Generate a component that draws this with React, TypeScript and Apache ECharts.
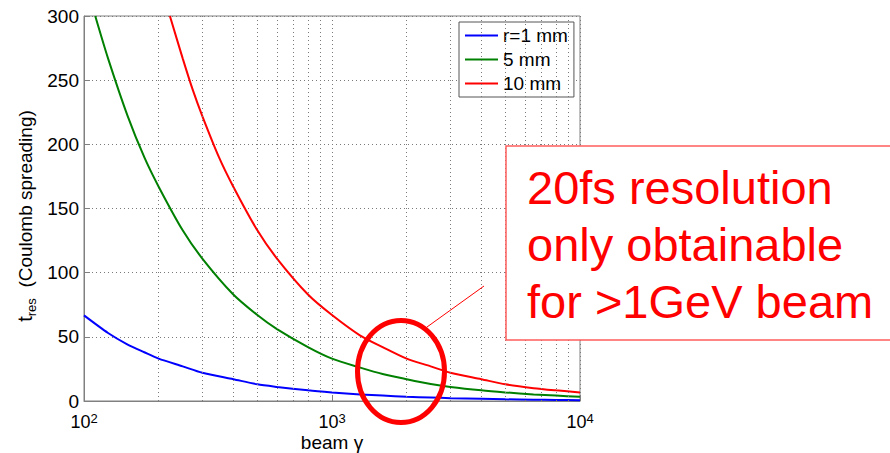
import React, { useEffect, useRef } from 'react';
import * as echarts from 'echarts';

// ---- data ----
const seriesNames = ['r=1 mm', '5 mm', '10 mm'];
const seriesColors = ['#0000ff', '#008000', '#ff0000'];

const gammaR1 = [100, 125, 150, 175, 200, 250, 300, 400, 500, 600, 800, 1000, 1300, 1600, 2000, 2500, 3000, 4000, 5000, 6500, 8000, 10000];
const tresR1 = [66.7, 53, 44, 38, 33, 27, 22, 17, 13, 11, 8.3, 6.7, 5.1, 4.2, 3.3, 2.7, 2.2, 1.7, 1.3, 1.0, 0.8, 0.67];

const gammaR5 = [111, 125, 150, 175, 200, 250, 300, 400, 500, 600, 800, 1000, 1300, 1600, 2000, 2500, 3000, 4000, 5000, 6500, 8000, 10000];
const tresR5 = [300, 267, 222, 190, 167, 133, 111, 83, 67, 56, 42, 33, 26, 21, 17, 13.3, 11, 8.3, 6.7, 5.1, 4.2, 3.3];

const gammaR10 = [222, 250, 275, 300, 350, 400, 500, 600, 800, 1000, 1300, 1600, 2000, 2500, 3000, 4000, 5000, 6500, 8000, 10000];
const tresR10 = [300, 267, 242, 222, 190, 167, 133, 111, 83, 67, 51, 42, 33, 27, 22, 17, 13, 10, 8.3, 6.7];

const xMin = 100;
const xMax = 10000;
const yMin = 0;
const yMax = 300;
const yInterval = 50;
const minorGridGamma = [200, 300, 400, 500, 600, 700, 800, 900, 2000, 3000, 4000, 5000, 6000, 7000, 8000, 9000];

const xAxisName = 'beam γ';
const annotationLines = ['20fs resolution', 'only obtainable', 'for >1GeV beam'];

const FONT = '"Liberation Sans", Arial, sans-serif';

export default function App() {
  const ref = useRef<HTMLDivElement>(null);

  useEffect(() => {
    if (!ref.current) return;
    const chart = echarts.init(ref.current, undefined, { renderer: 'svg' });

    const toPairs = (xs: number[], ys: number[]) => xs.map((x, i) => [x, ys[i]]);
    const curveData = [toPairs(gammaR1, tresR1), toPairs(gammaR5, tresR5), toPairs(gammaR10, tresR10)];

    const gridLineStyle = { color: '#7a7a7a', type: [1, 3] as any, width: 1 };

    const series: any[] = [
      {
        name: 'minor-grid',
        type: 'line',
        data: [],
        z: 1,
        silent: true,
        markLine: {
          silent: true,
          symbol: ['none', 'none'],
          label: { show: false },
          lineStyle: gridLineStyle,
          emphasis: { disabled: true },
          data: minorGridGamma.map((g) => ({ xAxis: g })),
        },
      },
      ...seriesNames.map((name, i) => ({
        name,
        type: 'line',
        data: curveData[i],
        showSymbol: false,
        smooth: 0.25,
        z: 3,
        lineStyle: { color: seriesColors[i], width: 2 },
        itemStyle: { color: seriesColors[i] },
      })),
    ];

    const annotationCenters = [187, 244, 301];

    chart.setOption({
      animation: false,
      backgroundColor: '#ffffff',
      textStyle: { fontFamily: FONT },
      grid: {
        left: 84,
        right: 310,
        top: 16,
        bottom: 52,
        show: true,
        containLabel: false,
        outerBoundsMode: 'none',
        borderColor: '#808080',
        borderWidth: 1,
        backgroundColor: 'transparent',
      },
      legend: {
        data: seriesNames,
        orient: 'vertical',
        left: 459,
        top: 22,
        icon: 'rect',
        itemWidth: 33,
        itemHeight: 2,
        itemGap: 5,
        padding: [4, 6, 4, 6],
        backgroundColor: '#ffffff',
        borderColor: '#555555',
        borderWidth: 1,
        borderRadius: 0,
        selectedMode: false,
        textStyle: { fontSize: 19, color: '#000', fontFamily: FONT },
      },
      xAxis: {
        type: 'log',
        logBase: 10,
        min: xMin,
        max: xMax,
        axisLine: { show: true, lineStyle: { color: '#808080' } },
        axisTick: { show: true, inside: true, length: 6, lineStyle: { color: '#808080' } },
        splitLine: { show: true, lineStyle: gridLineStyle },
        axisLabel: {
          margin: 11,
          color: '#000',
          formatter: (v: number) => `{b|10}{e|${Math.round(Math.log10(v))}}`,
          rich: {
            b: { fontSize: 18, lineHeight: 20, color: '#000', fontFamily: FONT },
            e: { fontSize: 13, lineHeight: 13, verticalAlign: 'top', color: '#000', fontFamily: FONT },
          },
        },
      },
      yAxis: {
        type: 'value',
        min: yMin,
        max: yMax,
        interval: yInterval,
        axisLine: { show: true, lineStyle: { color: '#808080' } },
        axisTick: { show: true, inside: true, length: 6, lineStyle: { color: '#808080' } },
        splitLine: { show: true, lineStyle: gridLineStyle },
        axisLabel: { margin: 5, fontSize: 19, color: '#000', fontFamily: FONT },
      },
      series,
      graphic: [
        {
          type: 'text',
          x: 332,
          y: 442,
          z: 50,
          style: {
            text: xAxisName,
            fontSize: 19,
            fontFamily: FONT,
            fill: '#000',
            align: 'center',
            verticalAlign: 'middle',
          },
        },
        {
          type: 'text',
          x: 25,
          y: 216,
          rotation: Math.PI / 2,
          z: 50,
          style: {
            text: '{t|t}{s|res}{n|  (Coulomb spreading)}',
            align: 'center',
            verticalAlign: 'middle',
            fill: '#000',
            rich: {
              t: { fontSize: 20, lineHeight: 26, fontFamily: FONT, fill: '#000' } as any,
              s: { fontSize: 13, lineHeight: 13, verticalAlign: 'bottom', fontFamily: FONT, fill: '#000' } as any,
              n: { fontSize: 19, lineHeight: 26, fontFamily: FONT, fill: '#000' } as any,
            },
          },
        },
        {
          type: 'rect',
          z: 60,
          shape: { x: 506, y: 146, width: 420, height: 194 },
          style: { fill: '#ffffff', stroke: '#ff5c5c', lineWidth: 1.5 },
        },
        ...annotationLines.map((line, i) => ({
          type: 'text',
          z: 61,
          x: 527,
          y: annotationCenters[i],
          style: {
            text: line,
            fontSize: 47,
            fontFamily: FONT,
            fill: '#ff0000',
            align: 'left',
            verticalAlign: 'middle',
          },
        })),
        {
          type: 'line',
          z: 62,
          shape: { x1: 427, y1: 327, x2: 484, y2: 286 },
          style: { stroke: '#ff0000', lineWidth: 1 },
        },
        {
          type: 'ellipse',
          z: 62,
          shape: { cx: 401, cy: 371.5, rx: 43.5, ry: 51 },
          style: { fill: 'none', stroke: '#ff0000', lineWidth: 5 },
        },
      ],
    });

    return () => chart.dispose();
  }, []);

  return (
    <div
      ref={ref}
      style={{ position: 'absolute', left: 0, top: 0, width: 890, height: 453, background: '#fff' }}
    />
  );
}
